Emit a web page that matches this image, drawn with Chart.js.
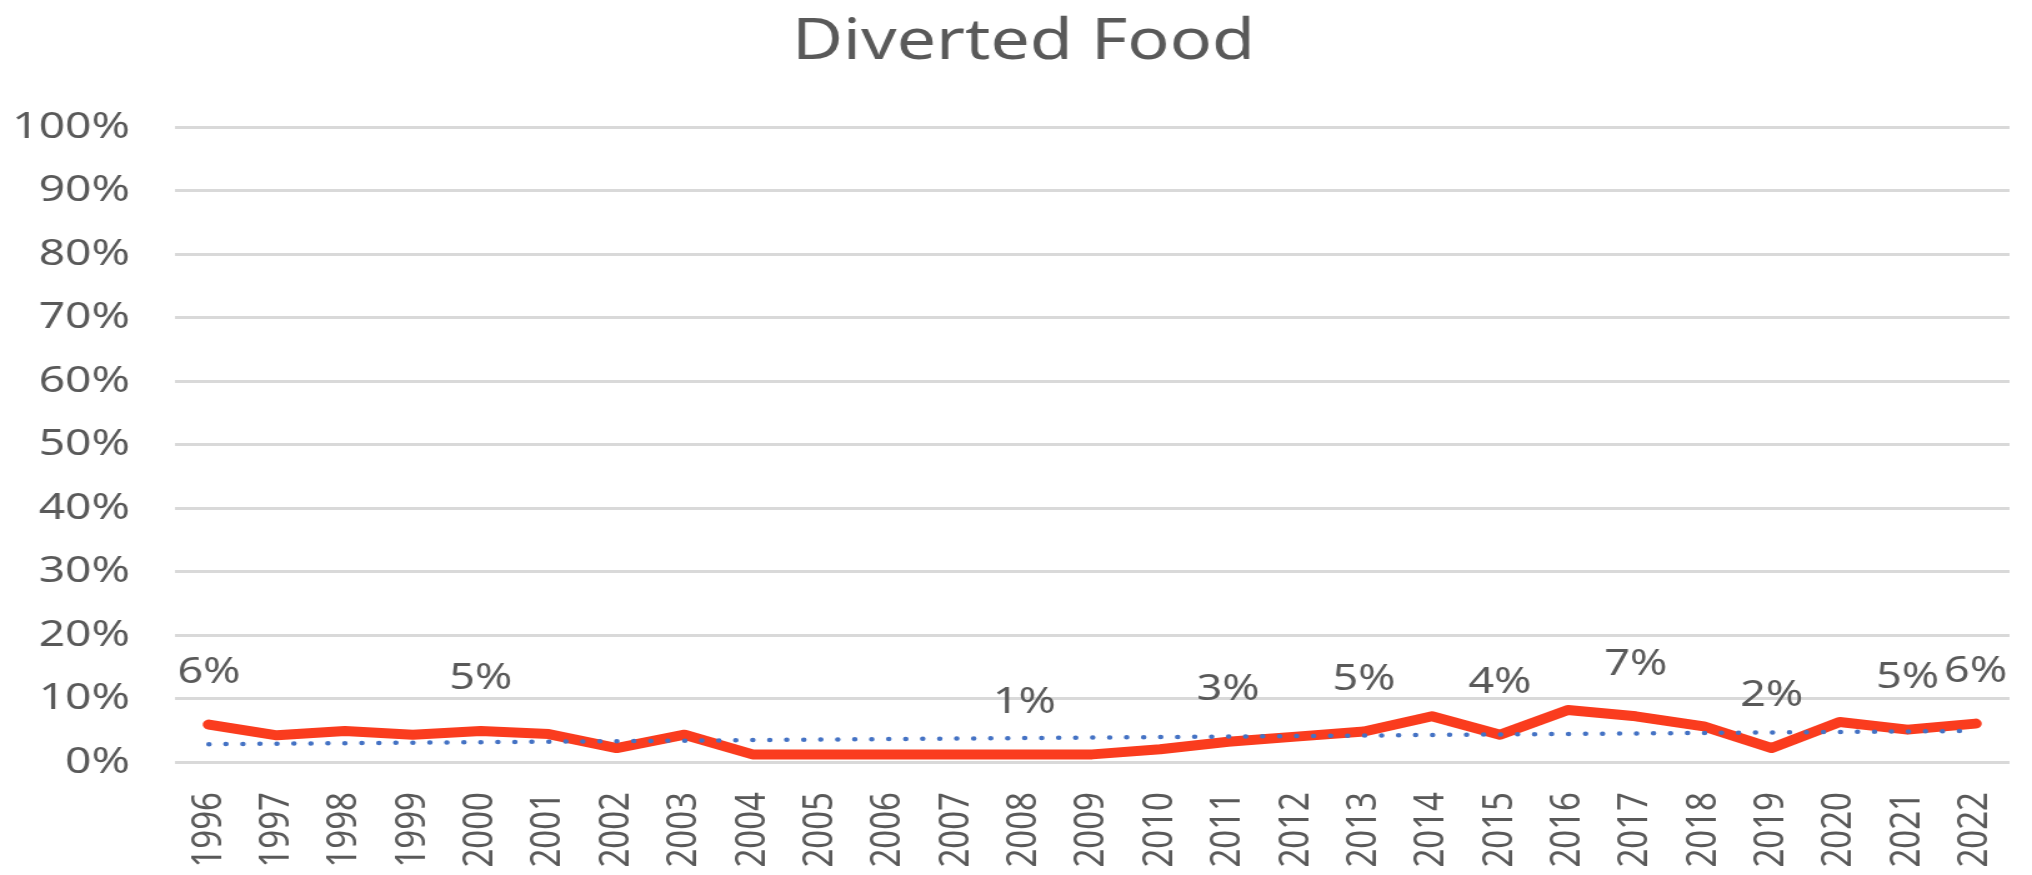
<!DOCTYPE html>
<html>
<head>
<meta charset="utf-8">
<script src="https://cdn.jsdelivr.net/npm/chart.js@4/dist/chart.umd.min.js"></script>
<style>
    body { margin: 0; background: #fff; overflow: hidden; }
    /* the reference is stretched sideways, so the canvas is too */
    #wrap { position: absolute; left: 0; top: 0; width: 1626px; height: 875px; transform: scaleX(1.2497); transform-origin: 0 0; }
</style>
</head>
<body>
<div id="wrap"><canvas id="chart" width="1626" height="875"></canvas></div>
<script>
const years = ["1996", "1997", "1998", "1999", "2000", "2001", "2002", "2003", "2004", "2005",
    "2006", "2007", "2008", "2009", "2010", "2011", "2012", "2013", "2014", "2015",
    "2016", "2017", "2018", "2019", "2020", "2021", "2022"];

// percent diverted
const divertedValues = [5.9, 4.2, 4.9, 4.3, 4.9, 4.4, 2.2, 4.3, 1.2, 1.2,
    1.2, 1.2, 1.2, 1.2, 2.0, 3.2, 4.0, 4.8, 7.2, 4.3,
    8.2, 7.2, 5.6, 2.2, 6.3, 5.1, 6.05];

// dotted trend line, start and end values
const trendYears = ["1996", "2022"];
const trendValues = [2.8, 4.9];

// years that carry a value label
const labelYears = ["1996", "2000", "2008", "2011", "2013", "2015", "2017", "2019", "2021", "2022"];

const yMin = 0;
const yMax = 100;
const yStep = 10;

var textColor = "#595959";
Chart.defaults.font.family = "'Noto Sans', sans-serif";

var pointLabels = {
    id: "pointLabels",
    afterLayout: function (chart) {
        // title in the reference sits a bit right of the canvas centre
        if (chart.titleBlock) {
            chart.titleBlock.left += 20;
        }
    },
    afterDatasetsDraw: function (chart) {
        var meta = chart.getDatasetMeta(1);
        var ctx = chart.ctx;
        ctx.save();
        ctx.font = "36px 'Noto Sans'";
        ctx.fillStyle = textColor;
        ctx.textAlign = "center";
        ctx.textBaseline = "middle";
        labelYears.forEach(function (year) {
            var i = years.indexOf(year);
            var pt = meta.data[i];
            ctx.fillText(Math.round(divertedValues[i]) + "%", pt.x, pt.y - 52);
        });
        ctx.restore();
    }
};

var trendData = trendYears.map(function (y, i) {
    return { x: y, y: trendValues[i] };
});

new Chart(document.getElementById("chart"), {
    type: "line",
    data: {
        labels: years,
        datasets: [
            {
                data: trendData,
                borderColor: "#4472c4",
                borderWidth: 4.5,
                borderDash: [0, 13.6],
                borderCapStyle: "round",
                pointRadius: 0,
                fill: false
            },
            {
                data: divertedValues,
                borderColor: "#fa3c1e",
                borderWidth: 10,
                borderJoinStyle: "round",
                borderCapStyle: "round",
                pointRadius: 0,
                tension: 0,
                fill: false
            }
        ]
    },
    options: {
        responsive: false,
        animation: false,
        layout: {
            padding: { left: 10, right: 18, top: 0, bottom: 0 }
        },
        scales: {
            x: {
                offset: true,
                grid: { display: false, drawTicks: false },
                border: { display: false },
                ticks: {
                    color: textColor,
                    font: { size: 33 },
                    minRotation: 90,
                    maxRotation: 90,
                    autoSkip: false,
                    padding: 30
                },
                afterFit: function (scale) {
                    scale.height = 113;
                    // rotated labels sit inside the offset, no extra side room
                    scale.paddingLeft = 0;
                    scale.paddingRight = 0;
                }
            },
            y: {
                min: yMin,
                max: yMax,
                grid: { color: "#d9d9d9", lineWidth: 3, drawTicks: false },
                border: { display: false },
                ticks: {
                    stepSize: yStep,
                    color: textColor,
                    font: { size: 37 },
                    padding: 36,
                    callback: function (v) { return v + "%"; }
                },
                afterFit: function (scale) { scale.width = 130; }
            }
        },
        plugins: {
            legend: { display: false },
            tooltip: { enabled: false },
            title: {
                display: true,
                text: "Diverted Food",
                color: textColor,
                font: { size: 56, weight: "normal" },
                padding: { top: 9, bottom: 51 }
            }
        }
    },
    plugins: [pointLabels]
});
</script>
</body>
</html>
